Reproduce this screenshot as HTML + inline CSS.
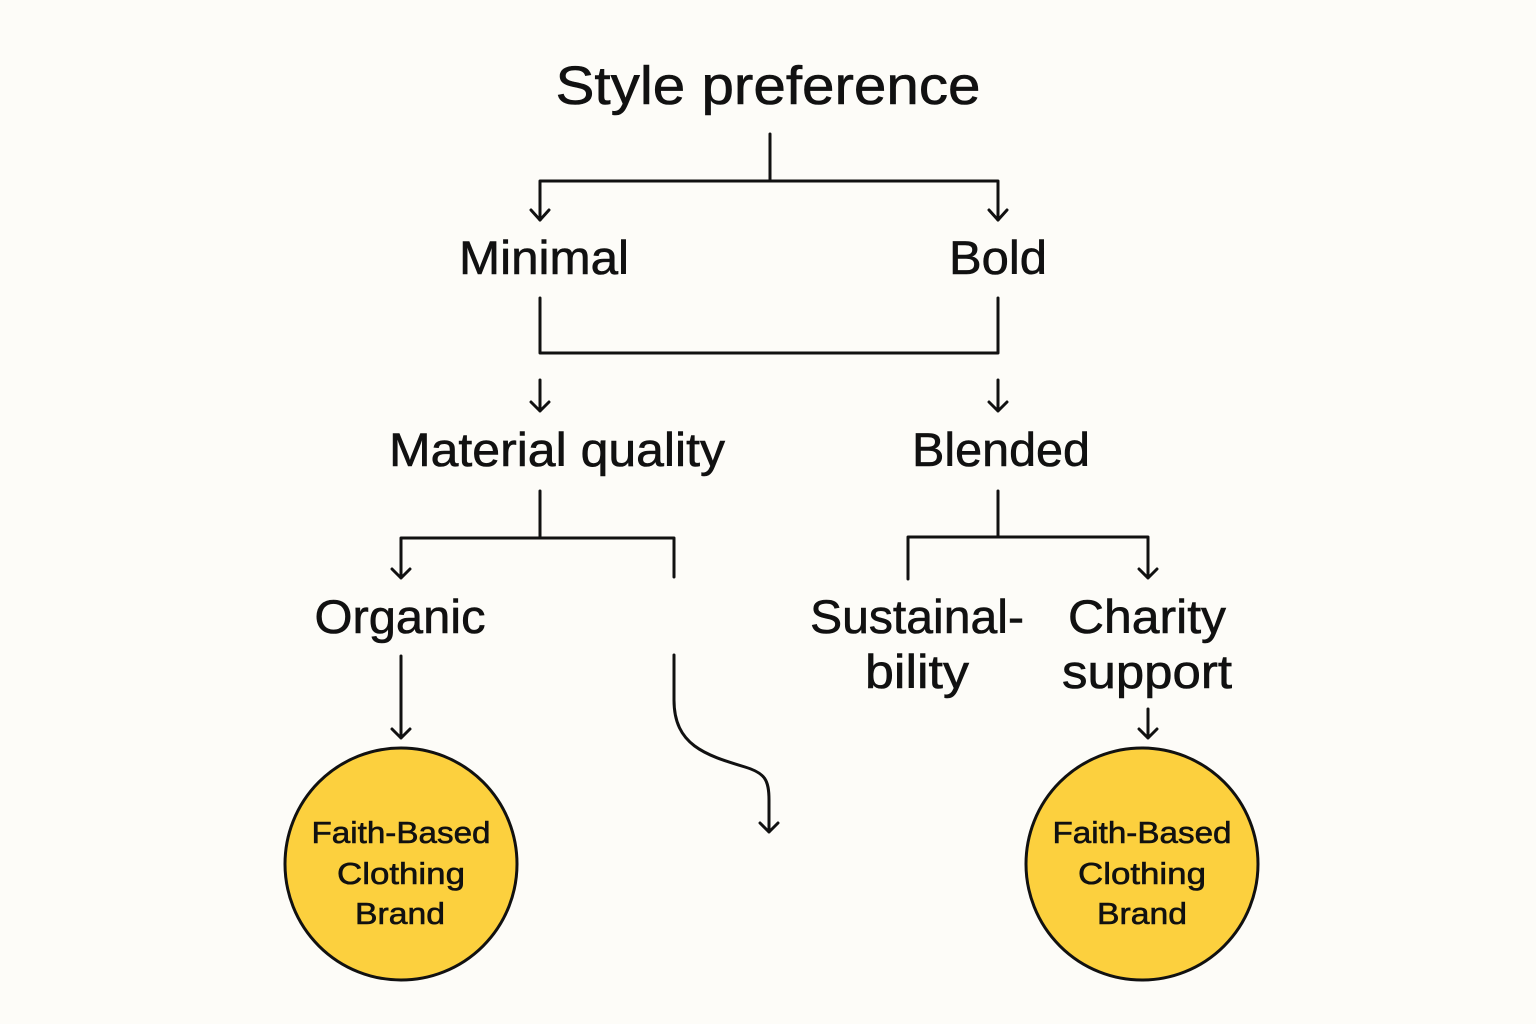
<!DOCTYPE html>
<html><head><meta charset="utf-8"><style>
html,body{margin:0;padding:0;background:#fdfcf8;}
svg{display:block}
text{font-family:"Liberation Sans",sans-serif;fill:#111;stroke:#111;stroke-width:0.6;}
</style></head><body>
<svg width="1536" height="1024" viewBox="0 0 1536 1024" xmlns="http://www.w3.org/2000/svg">
<rect width="1536" height="1024" fill="#fdfcf8"/>
<g fill="none" stroke="#111" stroke-width="3" stroke-linecap="round" stroke-linejoin="round">
<path d="M770 134V181M540 181H998M540 181V220M998 181V220"/>
<path d="M531 210L540 220L549 210M989 210L998 220L1007 210"/>
<path d="M540 298V353H998V298"/>
<path d="M540 380V411M531 402L540 411L549 402M998 380V411M989 402L998 411L1007 402"/>
<path d="M540 491V538M401 538H674V577M401 538V578M392 569L401 578L410 569"/>
<path d="M998 491V537M908 537H1148M908 537V579M1148 537V578M1139 569L1148 578L1157 569"/>
<path d="M401 656V738M392 729L401 738L410 729"/>
<path d="M674 655V700C674 745 705 755 745 767C765 773 769 780 769 800V832M760 823L769 832L778 823"/>
<path d="M1148 709V738M1139 729L1148 738L1157 729"/>
</g>
<circle cx="401" cy="864" r="116" fill="#fcd03e" stroke="#111" stroke-width="3"/>
<circle cx="1142" cy="864" r="116" fill="#fcd03e" stroke="#111" stroke-width="3"/>
<g text-anchor="middle" lengthAdjust="spacingAndGlyphs">
<text x="768" y="104" font-size="54" textLength="425" lengthAdjust="spacingAndGlyphs">Style preference</text>
<text x="544" y="274" font-size="47" textLength="170" lengthAdjust="spacingAndGlyphs">Minimal</text>
<text x="998" y="274" font-size="47" textLength="98" lengthAdjust="spacingAndGlyphs">Bold</text>
<text x="557" y="466" font-size="47" textLength="336" lengthAdjust="spacingAndGlyphs">Material quality</text>
<text x="1001" y="466" font-size="47" textLength="178" lengthAdjust="spacingAndGlyphs">Blended</text>
<text x="400" y="633" font-size="47" textLength="171" lengthAdjust="spacingAndGlyphs">Organic</text>
<text x="917" y="633" font-size="47" textLength="214" lengthAdjust="spacingAndGlyphs">Sustainal-</text>
<text x="917" y="688" font-size="47" textLength="104" lengthAdjust="spacingAndGlyphs">bility</text>
<text x="1147" y="633" font-size="47" textLength="158" lengthAdjust="spacingAndGlyphs">Charity</text>
<text x="1147" y="688" font-size="47" textLength="170" lengthAdjust="spacingAndGlyphs">support</text>
<g font-size="31">
<text x="401" y="843" textLength="179" lengthAdjust="spacingAndGlyphs">Faith-Based</text>
<text x="401" y="884" textLength="128" lengthAdjust="spacingAndGlyphs">Clothing</text>
<text x="400" y="924" textLength="90" lengthAdjust="spacingAndGlyphs">Brand</text>
<text x="1142" y="843" textLength="179" lengthAdjust="spacingAndGlyphs">Faith-Based</text>
<text x="1142" y="884" textLength="128" lengthAdjust="spacingAndGlyphs">Clothing</text>
<text x="1142" y="924" textLength="90" lengthAdjust="spacingAndGlyphs">Brand</text>
</g>
</g>
</svg>
</body></html>
